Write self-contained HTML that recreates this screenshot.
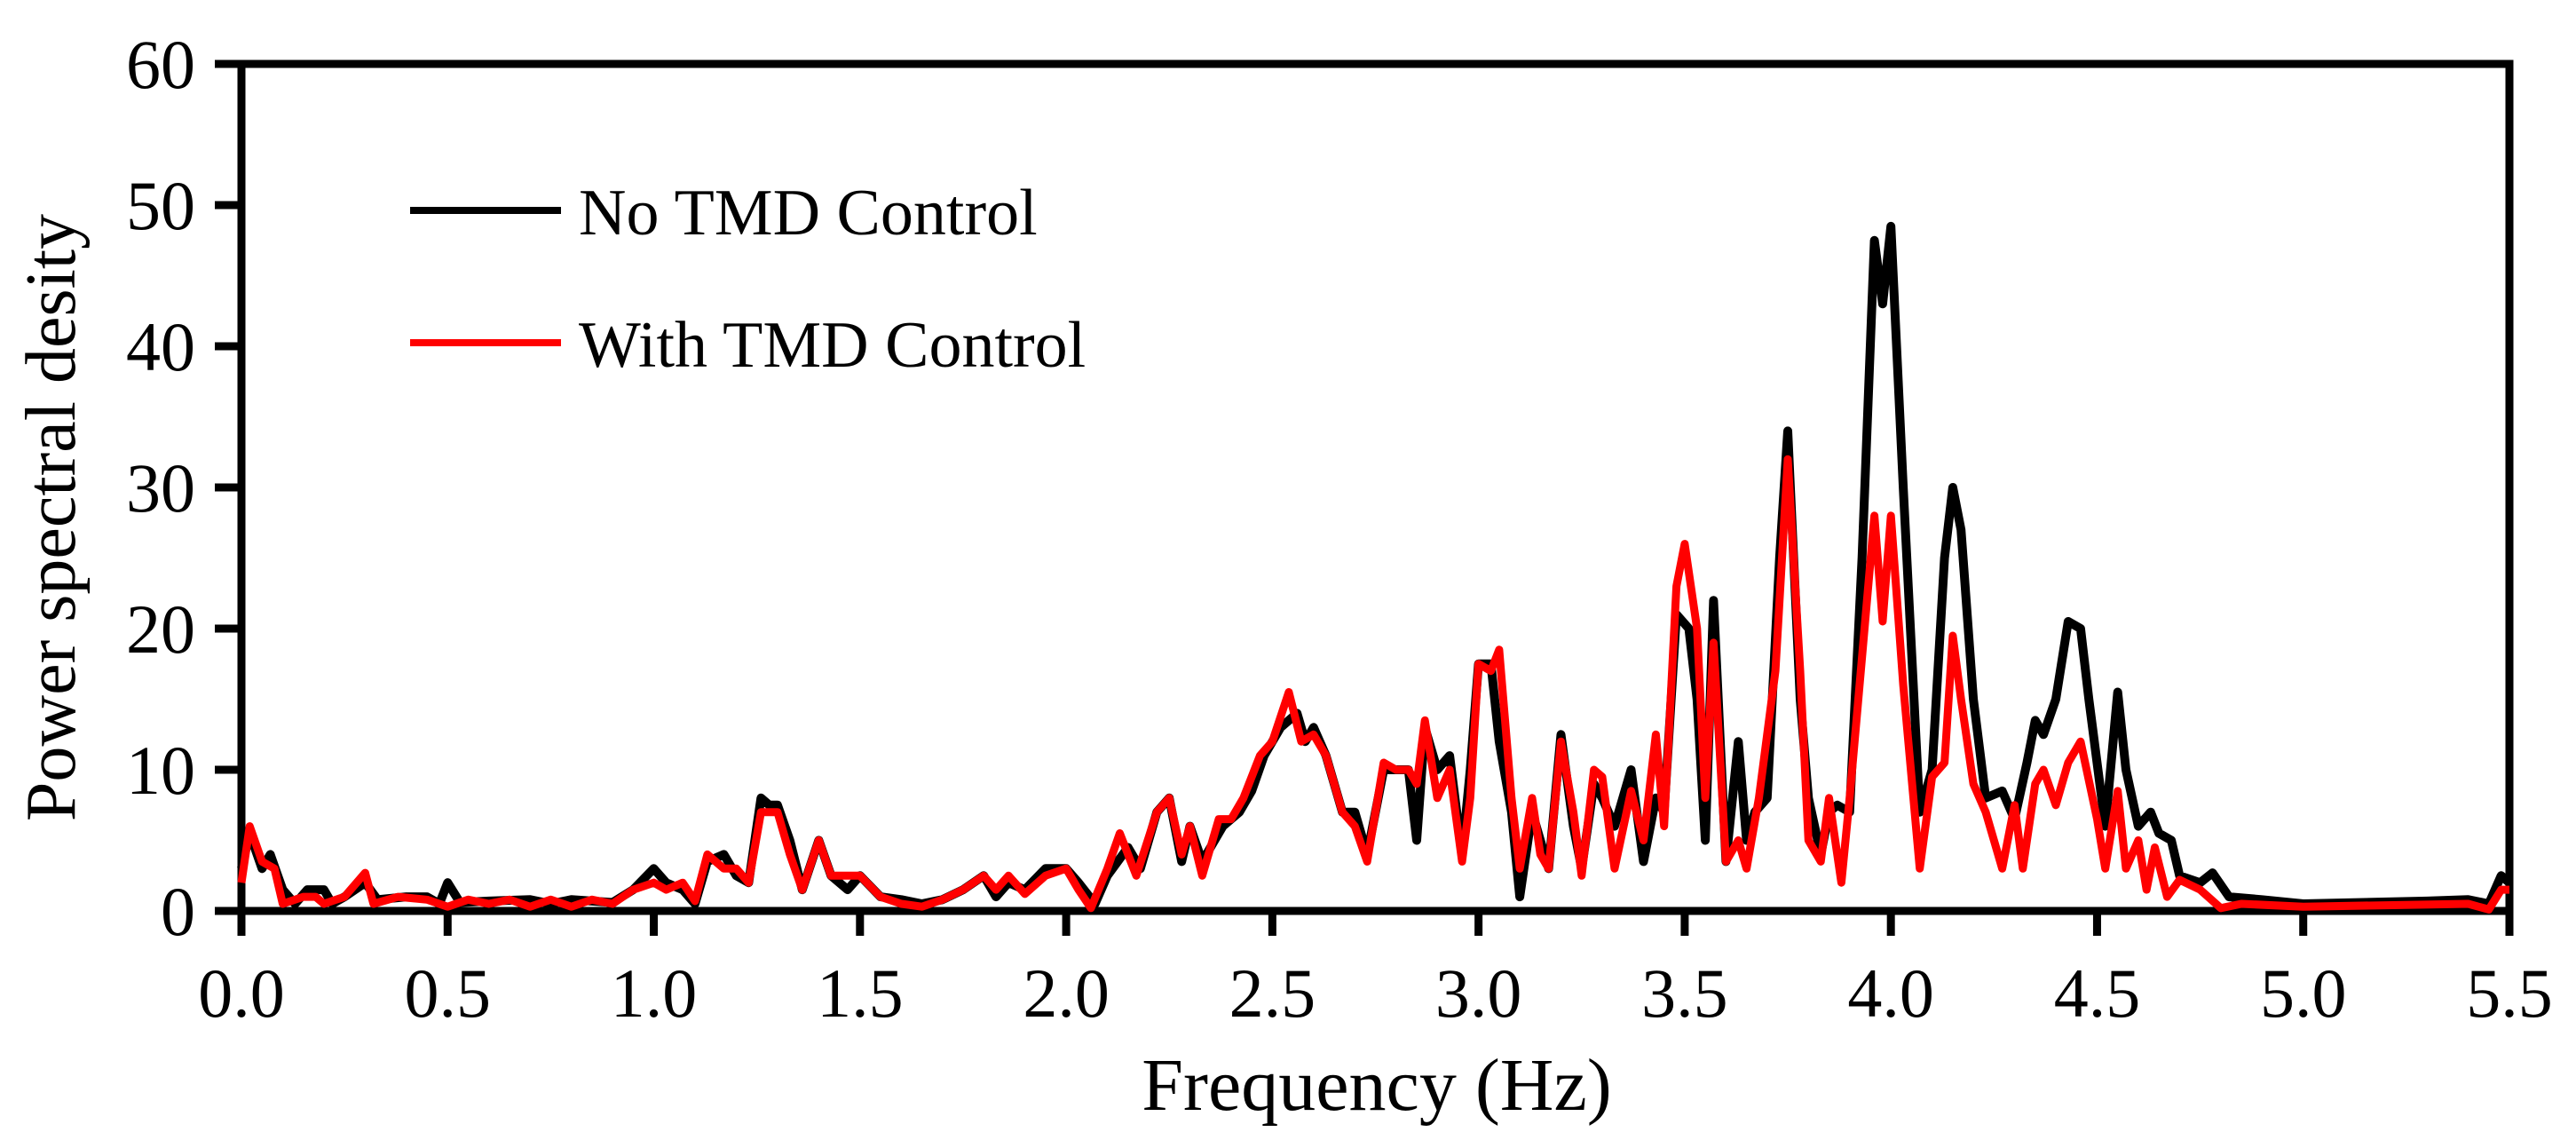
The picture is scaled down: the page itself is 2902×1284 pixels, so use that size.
<!DOCTYPE html>
<html><head><meta charset="utf-8">
<style>
html,body{margin:0;padding:0;background:#fff;}
svg{display:block;}
text{font-family:"Liberation Serif",serif;fill:#000;}
</style></head>
<body>
<svg id="chart" width="2902" height="1284" viewBox="0 0 2902 1284" xmlns="http://www.w3.org/2000/svg">
<g id="axes"></g>
<g id="series"></g>
<g>
  <line x1="462" y1="237" x2="632" y2="237" stroke="#000" stroke-width="8"/>
  <text x="652" y="264" font-size="74">No TMD Control</text>
  <line x1="462" y1="386" x2="632" y2="386" stroke="#f00" stroke-width="8"/>
  <text x="652" y="413" font-size="74">With TMD Control</text>
</g>
<text transform="translate(84,583) rotate(-90)" text-anchor="middle" font-size="80">Power spectral desity</text>
<text x="1551" y="1250" text-anchor="middle" font-size="84">Frequency (Hz)</text>
</svg>
<script>
const xTicks = [0.0,0.5,1.0,1.5,2.0,2.5,3.0,3.5,4.0,4.5,5.0,5.5];
const xTickLabels = ["0.0","0.5","1.0","1.5","2.0","2.5","3.0","3.5","4.0","4.5","5.0","5.5"];
const yTicks = [0,10,20,30,40,50,60];
const yTickLabels = ["0","10","20","30","40","50","60"];

const noTmdFreq = [0,0.02,0.05,0.07,0.1,0.13,0.16,0.2,0.22,0.25,0.3,0.33,0.4,0.45,0.48,0.5,0.53,0.6,0.7,0.75,0.8,0.9,0.95,1.0,1.03,1.07,1.1,1.13,1.17,1.2,1.23,1.26,1.28,1.3,1.33,1.36,1.4,1.43,1.47,1.5,1.55,1.6,1.65,1.7,1.75,1.8,1.83,1.86,1.9,1.95,2.0,2.03,2.07,2.1,2.15,2.18,2.22,2.25,2.28,2.3,2.33,2.38,2.42,2.45,2.48,2.52,2.56,2.58,2.6,2.63,2.67,2.7,2.73,2.77,2.8,2.83,2.85,2.87,2.9,2.93,2.96,2.98,3.0,3.03,3.05,3.08,3.1,3.13,3.17,3.2,3.23,3.25,3.28,3.3,3.33,3.37,3.4,3.43,3.45,3.48,3.51,3.53,3.55,3.57,3.6,3.63,3.65,3.67,3.7,3.73,3.75,3.78,3.8,3.83,3.85,3.87,3.9,3.93,3.96,3.98,4.0,4.03,4.07,4.1,4.13,4.15,4.17,4.2,4.23,4.27,4.3,4.33,4.35,4.37,4.4,4.43,4.46,4.48,4.52,4.55,4.57,4.6,4.63,4.65,4.68,4.7,4.75,4.78,4.82,4.9,5.0,5.3,5.4,5.45,5.48,5.5];
const noTmdPsd = [3,5.5,3,4,1.5,0.5,1.5,1.5,0.5,1,2,0.8,1,1,0.5,2,0.6,0.7,0.8,0.5,0.8,0.6,1.5,3,2,1.5,0.5,3.5,4,2.5,2,8,7.5,7.5,5,1.5,5,2.5,1.5,2.5,1,0.8,0.5,0.8,1.5,2.5,1,2,1.5,3,3,2,0.5,2.5,4.5,3,7,8,3.5,6,3.5,6,7,8.5,11,13,14,12,13,11,7,7,4,10,10,10,5,13,10,11,4,10,17.5,17.5,12,7,1,7,3,12.5,6,3,9,8,6,10,3.5,8,7,21,20,15,5,22,3.5,12,5,7,8,25,34,15,8,4,7,7.5,7,25,47.5,43,48.5,30,7,10,25,30,27,15,8,8.5,6.5,10.5,13.5,12.5,15,20.5,20,15,6,15.5,10,6,7,5.5,5,2.5,2,2.7,1,0.8,0.5,0.7,0.8,0.5,2.5,2];

const withTmdFreq = [0,0.02,0.05,0.08,0.1,0.15,0.18,0.2,0.25,0.3,0.32,0.38,0.45,0.5,0.55,0.6,0.65,0.7,0.75,0.8,0.85,0.9,0.95,1.0,1.03,1.07,1.1,1.13,1.17,1.2,1.23,1.26,1.3,1.33,1.36,1.4,1.43,1.5,1.55,1.6,1.65,1.7,1.75,1.8,1.83,1.86,1.9,1.95,2.0,2.03,2.06,2.1,2.13,2.17,2.22,2.25,2.28,2.3,2.33,2.37,2.4,2.43,2.47,2.5,2.54,2.57,2.6,2.63,2.67,2.7,2.73,2.77,2.8,2.83,2.85,2.87,2.9,2.93,2.96,2.98,3.0,3.03,3.05,3.08,3.1,3.13,3.15,3.17,3.2,3.23,3.25,3.28,3.3,3.33,3.37,3.4,3.43,3.45,3.48,3.5,3.53,3.55,3.57,3.6,3.63,3.65,3.68,3.72,3.75,3.78,3.8,3.83,3.85,3.88,3.9,3.93,3.96,3.98,4.0,4.03,4.07,4.1,4.13,4.15,4.17,4.2,4.23,4.25,4.27,4.3,4.32,4.35,4.37,4.4,4.43,4.46,4.5,4.52,4.55,4.57,4.6,4.62,4.64,4.67,4.7,4.75,4.8,4.85,5.0,5.4,5.45,5.48,5.5];
const withTmdPsd = [2,6,3.5,3,0.5,1,1,0.5,1,2.7,0.5,1,0.8,0.3,0.8,0.5,0.8,0.3,0.8,0.3,0.8,0.5,1.5,2,1.5,2,0.7,4,3,3,2,7,7,4,1.5,5,2.5,2.5,1,0.5,0.3,0.8,1.5,2.5,1.5,2.5,1.2,2.5,3,1.5,0.2,3,5.5,2.5,7,8,4,6,2.5,6.5,6.5,8,11,12,15.5,12,12.5,11,7,6,3.5,10.5,10,10,9,13.5,8,10,3.5,8,17.5,17,18.5,8,3,8,4,3,12,7,2.5,10,9.5,3,8.5,5,12.5,6,23,26,20,8,19,3.5,5,3,8,17,32,17,5,3.5,8,2,8,18,28,20.5,28,16,3,9.5,10.5,19.5,15,9,7,5,3,7.5,3,9,10,7.5,10.5,12,6.5,3,8.5,3,5,1.5,4.5,1,2.2,1.5,0.2,0.5,0.3,0.5,0.1,1.5,1.5];

const X0 = 272, X1 = 2827, Y0 = 1026, Y1 = 72;
function xScale(f){ return X0 + (f - 0) / 5.5 * (X1 - X0); }
function yScale(v){ return Y0 - (v - 0) / 60 * (Y0 - Y1); }

const NS = "http://www.w3.org/2000/svg";
const axes = document.getElementById("axes");
const series = document.getElementById("series");
function mk(tag, attrs, parent){
  const el = document.createElementNS(NS, tag);
  for (const k in attrs) el.setAttribute(k, attrs[k]);
  parent.appendChild(el);
  return el;
}

let frame = mk("rect", {x:X0, y:Y1, width:X1-X0, height:Y0-Y1, fill:"none", stroke:"#000", "stroke-width":9}, axes);



yTicks.forEach((t,i)=>{
  const y = yScale(t);
  const tk = mk("line", {x1:X0-30, y1:y, x2:X0, y2:y, stroke:"#000", "stroke-width":9}, axes);
  
  
  const lb = mk("text", {x:220, y:y+27, "text-anchor":"end", "font-size":78}, axes);
  lb.textContent = yTickLabels[i];
  
  
});
xTicks.forEach((t,i)=>{
  const x = xScale(t);
  const tk = mk("line", {x1:x, y1:Y0, x2:x, y2:Y0+28, stroke:"#000", "stroke-width":9}, axes);
  
  
  const lb = mk("text", {x:x, y:1145, "text-anchor":"middle", "font-size":78}, axes);
  lb.textContent = xTickLabels[i];
  
  
});

function pathFrom(fs, vs){
  return fs.map((f,i)=>(i?"L":"M")+xScale(f).toFixed(1)+","+yScale(vs[i]).toFixed(1)).join(" ");
}
const pBlack = mk("path", {d:pathFrom(noTmdFreq,noTmdPsd), fill:"none", stroke:"#000", "stroke-width":10, "stroke-linejoin":"round"}, series);


const pRed = mk("path", {d:pathFrom(withTmdFreq,withTmdPsd), fill:"none", stroke:"#f00", "stroke-width":9, "stroke-linejoin":"round"}, series);


</script>
</body></html>
